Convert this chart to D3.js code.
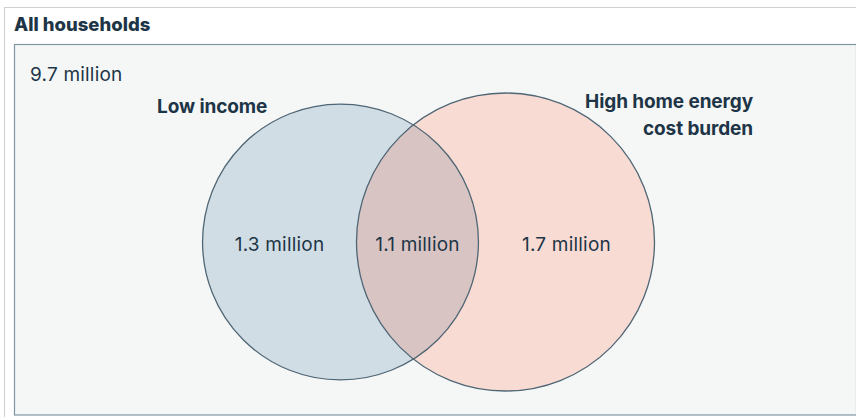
<!DOCTYPE html>
<html><head><meta charset="utf-8">
<script src="https://cdn.jsdelivr.net/npm/d3@7"></script>
<style>
html,body{margin:0;padding:0;background:#fff;}
svg{display:block;font-family:Inter, "Noto Sans", sans-serif;}
</style></head>
<body><svg id="chart" width="856" height="417"></svg>
<script>
// Data
const title = "All households";
const totalLabel = "9.7 million";
const setNames = ["Low income", "High home energy cost burden"];
const setNameLines = [["Low income"], ["High home energy", "cost burden"]];
const regionNames = ["Low income only", "Both", "High home energy cost burden only"];
const regionValues = [1.3, 1.1, 1.7]; // millions
const regionLabels = ["1.3 million", "1.1 million", "1.7 million"];

const setTotals = [regionValues[0] + regionValues[1], regionValues[2] + regionValues[1]];

const W = 856, H = 417;
const svg = d3.select("#chart");
const ink = "#1d3546";

// frame
svg.append("line").attr("x1", 4).attr("x2", W).attr("y1", 7.5).attr("y2", 7.5).attr("stroke", "#cfcfcf").attr("stroke-width", 1);
svg.append("line").attr("x1", 4.5).attr("x2", 4.5).attr("y1", 7).attr("y2", H).attr("stroke", "#cfcfcf").attr("stroke-width", 1);
svg.append("text").attr("x", 14).attr("y", 31).attr("fill", ink).attr("font-size", 18.5).attr("font-weight", 800)
  .attr("letter-spacing", 0).text(title);
svg.append("rect").attr("x", 14.5).attr("y", 44.5).attr("width", W - 14).attr("height", H - 45.5 - 1)
  .attr("fill", "#f5f7f7").attr("stroke", "#7f96a3").attr("stroke-width", 1.2);
svg.append("text").attr("x", 30).attr("y", 81).attr("fill", ink).attr("font-size", 19).attr("letter-spacing", 0.2).text(totalLabel);

// geometry from data
const r = d3.scaleSqrt().domain([0, d3.max(setTotals)]).range([0, 149]);
const radii = setTotals.map(v => r(v));
const cy = 242, midX = 423, gap = 165;
const centers = [midX - gap / 2, midX + gap / 2];

const defs = svg.append("defs");
defs.append("clipPath").attr("id", "clipL").append("circle")
  .attr("cx", centers[0]).attr("cy", cy).attr("r", radii[0]);

const fills = ["#d1dde5", "#f8dbd3"];
svg.selectAll("circle.set").data(setTotals).join("circle").attr("class", "set")
  .attr("cx", (d, i) => centers[i]).attr("cy", cy).attr("r", (d, i) => radii[i])
  .attr("fill", (d, i) => fills[i]);
svg.append("circle").attr("cx", centers[1]).attr("cy", cy).attr("r", radii[1])
  .attr("fill", "#d9c4c4").attr("clip-path", "url(#clipL)");
svg.selectAll("circle.edge").data(setTotals).join("circle").attr("class", "edge")
  .attr("cx", (d, i) => centers[i]).attr("cy", cy).attr("r", (d, i) => radii[i])
  .attr("fill", "none").attr("stroke", "#4f6675").attr("stroke-width", 1.3);

// region label positions
const xs = [centers[0] - radii[0], centers[1] - radii[1], centers[0] + radii[0], centers[1] + radii[1]];
const labelX = [(xs[0] + xs[1]) / 2, (xs[1] + xs[2]) / 2, (xs[2] + xs[3]) / 2];
svg.selectAll("text.region").data(regionLabels).join("text").attr("class", "region")
  .attr("x", (d, i) => labelX[i]).attr("y", cy + 9).attr("text-anchor", "middle")
  .attr("fill", ink).attr("font-size", 19).attr("letter-spacing", 0.2).text(d => d);

// set name labels
svg.append("text").attr("x", 157).attr("y", 113).attr("fill", ink).attr("font-size", 19).attr("font-weight", 700)
  .attr("letter-spacing", -0.1).text(setNameLines[0][0]);
const t2 = svg.append("text").attr("fill", ink).attr("font-size", 19).attr("font-weight", 700)
  .attr("letter-spacing", -0.1).attr("text-anchor", "end");
setNameLines[1].forEach((line, i) => t2.append("tspan").attr("x", 753).attr("y", 108 + i * 27).text(line));
</script></body></html>
